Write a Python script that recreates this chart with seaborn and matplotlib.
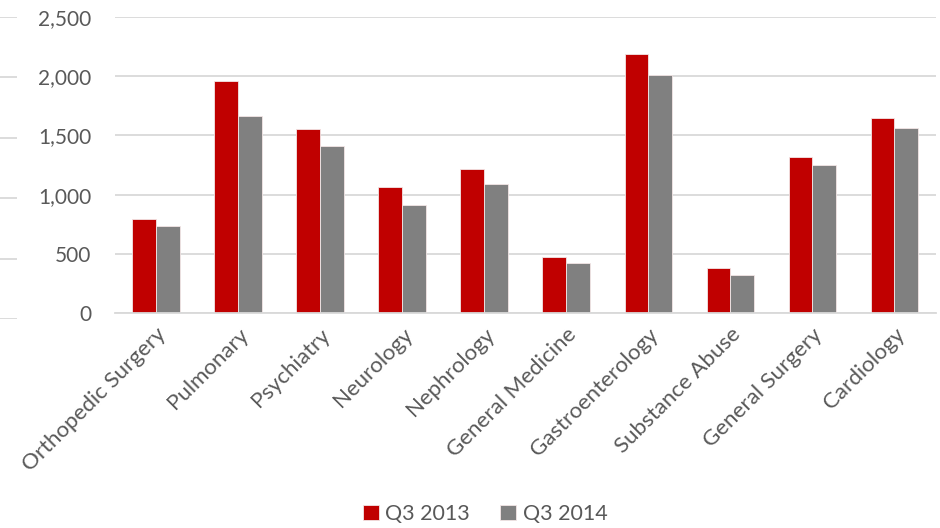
import matplotlib
matplotlib.use("Agg")
import matplotlib.pyplot as plt
import seaborn as sns
import pandas as pd
from matplotlib.ticker import FuncFormatter, MultipleLocator

categories = ["Orthopedic Surgery", "Pulmonary", "Psychiatry", "Neurology", "Nephrology",
              "General Medicine", "Gastroenterology", "Substance Abuse", "General Surgery",
              "Cardiology"]
q3_2013 = [795, 1956, 1551, 1062, 1219, 472, 2186, 379, 1318, 1647]
q3_2014 = [736, 1666, 1408, 911, 1090, 427, 2012, 320, 1248, 1560]
series = ["Q3 2013", "Q3 2014"]
colors = ["#C00000", "#808080"]

df = pd.DataFrame({
    "Service": categories * 2,
    "Period": [series[0]] * len(categories) + [series[1]] * len(categories),
    "Count": q3_2013 + q3_2014,
})

sns.set_theme(style="white")
plt.rcParams["font.family"] = ["Lato", "DejaVu Sans"]

text_color = "#595959"
grid_color = "#D9D9D9"

fig = plt.figure(figsize=(9.4, 5.28), dpi=100)
W, H = 940, 528
ax = fig.add_axes([115 / W, 1 - 313.3 / H, (935.5 - 115) / W, (313.3 - 16.8) / H])

sns.barplot(data=df, x="Service", y="Count", hue="Period", order=categories,
            hue_order=series, palette=colors, width=0.58, gap=0, saturation=1,
            edgecolor="#f3e6e6", linewidth=0.6, ax=ax, legend=True)

ax.set_ylim(0, 2500)
ax.set_xlim(-0.5, len(categories) - 0.5)
ax.yaxis.set_major_locator(MultipleLocator(500))
ax.yaxis.set_major_formatter(FuncFormatter(lambda v, p: f"{int(v):,}"))
ax.grid(axis="y", color=grid_color, linewidth=1.3)
ax.set_axisbelow(True)
for s in ["top", "right", "left"]:
    ax.spines[s].set_visible(False)
ax.spines["bottom"].set_color(grid_color)
ax.spines["bottom"].set_linewidth(1.3)
ax.set_xlabel("")
ax.set_ylabel("")
ax.tick_params(axis="y", length=0, pad=17, labelsize=15, labelcolor=text_color)
ax.tick_params(axis="x", length=0, pad=8, labelsize=16, labelcolor=text_color)
for lbl in ax.get_xticklabels():
    lbl.set_rotation(45)
    lbl.set_ha("right")
    lbl.set_rotation_mode("anchor")

handles, labels = ax.get_legend_handles_labels()
ax.legend_.remove()
fig.legend(handles, labels, loc="center", bbox_to_anchor=(485 / W, 1 - 514 / H), ncol=2,
           frameon=False, fontsize=15.5, labelcolor=text_color, handlelength=0.75,
           handleheight=0.75, handletextpad=0.3, columnspacing=1.4)

# narrow strip of gridlines along the left edge
strip = fig.add_axes([0, 1 - 319 / H, 17 / W, (319 - 17) / H])
strip.set_ylim(0, 2500)
strip.yaxis.set_major_locator(MultipleLocator(500))
strip.grid(axis="y", color=grid_color, linewidth=1.3)
strip.set_xticks([])
strip.tick_params(axis="y", length=0, labelleft=False)
for s in strip.spines.values():
    s.set_visible(False)
strip.patch.set_alpha(0)

fig.savefig("out.png", dpi=100)
